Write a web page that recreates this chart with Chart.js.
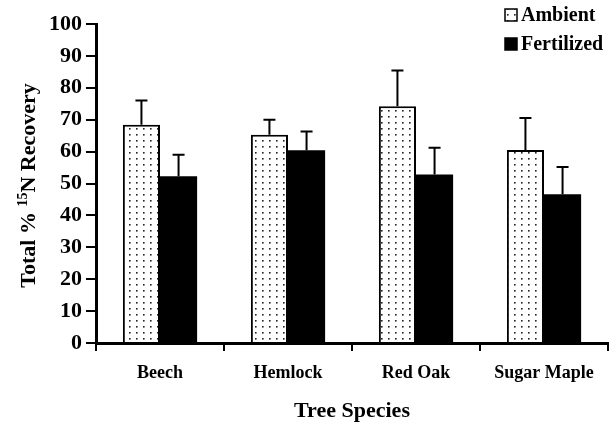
<!DOCTYPE html>
<html>
<head>
<meta charset="utf-8">
<script src="https://cdn.jsdelivr.net/npm/chart.js@4/dist/chart.umd.min.js"></script>
<style>
  html, body { margin: 0; padding: 0; background: #fff; }
  #wrap { width: 610px; height: 426px; }
</style>
</head>
<body>
<div id="wrap"><canvas id="chart" width="610" height="426"></canvas></div>
<script>
// data
const species = ['Beech', 'Hemlock', 'Red Oak', 'Sugar Maple'];
const ambient = [68.4, 65.3, 74.2, 60.5];
const ambientErr = [7.6, 4.7, 11.2, 10.0];
const fertilized = [52.3, 60.4, 52.8, 46.6];
const fertilizedErr = [6.7, 5.9, 8.4, 8.6];
const yTicks = [0, 10, 20, 30, 40, 50, 60, 70, 80, 90, 100];

const FONT = "'Liberation Serif', 'Times New Roman', serif";

// stippled fill for the ambient bars
function makeDots() {
  const c = document.createElement('canvas');
  c.width = 7;
  c.height = 6;
  const g = c.getContext('2d');
  g.fillStyle = '#fff';
  g.fillRect(0, 0, 7, 6);
  g.fillStyle = '#222';
  g.fillRect(3, 2, 1.6, 1.6);
  return g.createPattern(c, 'repeat');
}
const dots = makeDots();

// upper error bars only, with a short cap
const errorBars = {
  id: 'errorBars',
  afterDatasetsDraw(chart) {
    const ctx = chart.ctx;
    const y = chart.scales.y;
    ctx.save();
    ctx.strokeStyle = '#000';
    ctx.lineWidth = 2;
    chart.data.datasets.forEach((ds, i) => {
      const meta = chart.getDatasetMeta(i);
      meta.data.forEach((bar, j) => {
        const top = y.getPixelForValue(ds.data[j] + ds.err[j]);
        ctx.beginPath();
        ctx.moveTo(bar.x, bar.y);
        ctx.lineTo(bar.x, top);
        ctx.moveTo(bar.x - 6, top);
        ctx.lineTo(bar.x + 6, top);
        ctx.stroke();
      });
    });
    ctx.restore();
  }
};

// y title with a real superscript, and the stacked legend at top right
const extras = {
  id: 'extras',
  afterDraw(chart) {
    const ctx = chart.ctx;
    const area = chart.chartArea;
    ctx.save();
    ctx.fillStyle = '#000';
    ctx.textBaseline = 'alphabetic';

    // y axis title
    const big = 'bold 22px ' + FONT;
    const small = 'bold 14px ' + FONT;
    const p1 = 'Total % ', p2 = '15', p3 = 'N Recovery';
    ctx.font = big;
    const w1 = ctx.measureText(p1).width;
    const w3 = ctx.measureText(p3).width;
    ctx.font = small;
    const w2 = ctx.measureText(p2).width;
    const total = w1 + w2 + w3;
    ctx.translate(35, (area.top + area.bottom) / 2 + 2);
    ctx.rotate(-Math.PI / 2);
    let x = -total / 2;
    ctx.font = big;
    ctx.fillText(p1, x, 0);
    x += w1;
    ctx.font = small;
    ctx.fillText(p2, x, -8);
    x += w2;
    ctx.font = big;
    ctx.fillText(p3, x, 0);
    ctx.setTransform(1, 0, 0, 1, 0, 0);

    // legend
    ctx.font = 'bold 20px ' + FONT;
    ctx.textBaseline = 'middle';
    chart.data.datasets.forEach((ds, i) => {
      const cy = 15 + i * 29;
      ctx.fillStyle = ds.backgroundColor;
      ctx.fillRect(505, cy - 6, 12, 12);
      ctx.strokeStyle = '#000';
      ctx.lineWidth = 1.5;
      ctx.strokeRect(505, cy - 6, 12, 12);
      ctx.fillStyle = '#000';
      ctx.fillText(ds.label, 521, cy + 1);
    });
    ctx.restore();
  }
};

new Chart(document.getElementById('chart'), {
  type: 'bar',
  data: {
    labels: species,
    datasets: [
      {
        label: 'Ambient',
        data: ambient,
        err: ambientErr,
        backgroundColor: dots,
        borderColor: '#000',
        borderWidth: 2,
        categoryPercentage: 0.58,
        barPercentage: 1.0
      },
      {
        label: 'Fertilized',
        data: fertilized,
        err: fertilizedErr,
        backgroundColor: '#000',
        borderColor: '#000',
        borderWidth: 0,
        categoryPercentage: 0.58,
        barPercentage: 1.0
      }
    ]
  },
  options: {
    responsive: false,
    devicePixelRatio: 1,
    animation: false,
    layout: { padding: { top: 24, right: 2, left: 0, bottom: 0 } },
    plugins: {
      legend: { display: false },
      tooltip: { enabled: false }
    },
    scales: {
      x: {
        afterFit(scale) { scale.height = 83; },
        grid: {
          offset: true,
          drawOnChartArea: false,
          drawTicks: true,
          tickLength: 8,
          color: '#000',
          lineWidth: 2
        },
        border: { display: true, color: '#000', width: 3 },
        ticks: {
          color: '#000',
          padding: 12,
          font: { family: FONT, size: 18, weight: 'bold' }
        },
        title: {
          display: true,
          text: 'Tree Species',
          color: '#000',
          font: { family: FONT, size: 22, weight: 'bold' },
          padding: { top: 0, bottom: 1 }
        }
      },
      y: {
        min: 0,
        max: 100,
        afterFit(scale) { scale.width = 96; },
        afterBuildTicks(scale) { scale.ticks = yTicks.map(v => ({ value: v })); },
        grid: {
          drawOnChartArea: false,
          drawTicks: true,
          tickLength: 10,
          color: '#000',
          lineWidth: 2
        },
        border: { display: true, color: '#000', width: 3 },
        ticks: {
          color: '#000',
          padding: 4,
          font: { family: FONT, size: 22, weight: 'bold' }
        }
      }
    }
  },
  plugins: [errorBars, extras]
});
</script>
</body>
</html>
